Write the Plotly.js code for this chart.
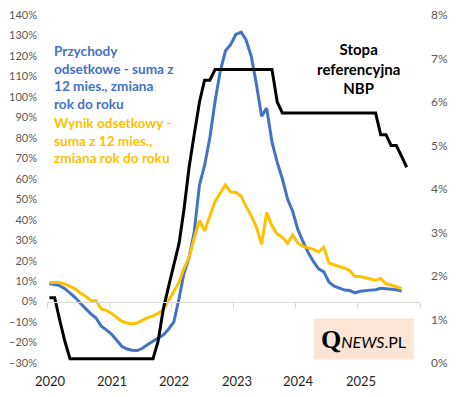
<!DOCTYPE html>
<html>
<head>
<meta charset="utf-8">
<script src="https://cdn.plot.ly/plotly-3.0.1.min.js"></script>
<style>html,body{margin:0;padding:0;background:#fff;}#chart{width:458px;height:397px;}</style>
</head>
<body>
<div id="chart"></div>
<script>
// Monthly data, Jan 2020 onward
const startYear = 2020;
const yearLabels = ['2020', '2021', '2022', '2023', '2024', '2025'];
const yearTicks = ['2020-01-01', '2021-01-01', '2022-01-01', '2023-01-01', '2024-01-01', '2025-01-01', '2026-01-01'];

// Przychody odsetkowe - suma z 12 mies., zmiana r/r (%)
const interestIncome = [8.8, 8.3, 7.8, 6.3, 4.3, 2.0, -0.8, -3.5, -6.0, -8.0,
  -12.0, -13.8, -16.0, -19.0, -21.8, -23.2, -23.8, -23.9, -22.8, -21.0,
  -19.3, -17.8, -16.2, -13.5, -10.0, 1.5, 13.5, 21.5, 34.0, 57.0,
  66.5, 80.0, 98.0, 112.5, 122.5, 125.5, 130.5, 131.6, 128.0, 120.0,
  106.5, 90.5, 94.5, 78.0, 68.0, 60.0, 50.0, 44.0, 35.0, 29.0,
  24.0, 19.5, 16.0, 14.5, 9.5, 7.5, 6.5, 5.6, 5.4, 4.3,
  5.0, 5.5, 5.6, 5.8, 6.5, 6.3, 6.1, 5.8, 5.2];

// Wynik odsetkowy - suma z 12 mies., zmiana r/r (%)
const netInterest = [9.3, 9.2, 9.3, 8.5, 7.3, 6.2, 4.2, 2.6, 0.5, 0.4,
  -3.6, -4.3, -5.8, -8.0, -9.6, -10.5, -10.9, -10.4, -9.0, -7.8,
  -7.0, -5.8, -4.0, 0.5, 4.5, 9.5, 16.0, 21.5, 31.0, 39.6,
  34.5, 42.0, 49.0, 53.0, 57.0, 53.5, 53.3, 51.5, 46.5, 42.0,
  36.5, 28.0, 43.5, 37.0, 33.0, 31.5, 28.5, 32.6, 28.5, 27.0,
  26.3, 25.5, 24.2, 26.5, 18.8, 18.0, 17.4, 16.3, 15.1, 12.3,
  12.2, 11.5, 10.8, 10.4, 11.3, 8.7, 8.1, 7.2, 6.3];

// Stopa referencyjna NBP (%)
const refRate = [1.5, 1.5, 1.0, 0.5, 0.1, 0.1, 0.1, 0.1, 0.1, 0.1,
  0.1, 0.1, 0.1, 0.1, 0.1, 0.1, 0.1, 0.1, 0.1, 0.1,
  0.1, 0.5, 1.25, 1.75, 2.25, 2.75, 3.5, 4.5, 5.25, 6.0,
  6.5, 6.5, 6.75, 6.75, 6.75, 6.75, 6.75, 6.75, 6.75, 6.75,
  6.75, 6.75, 6.75, 6.75, 6.0, 5.75, 5.75, 5.75, 5.75, 5.75,
  5.75, 5.75, 5.75, 5.75, 5.75, 5.75, 5.75, 5.75, 5.75, 5.75,
  5.75, 5.75, 5.75, 5.75, 5.25, 5.25, 5.0, 5.0, 4.75, 4.5];

function monthDates(n) {
  const out = [];
  for (let i = 0; i < n; i++) {
    const y = startYear + Math.floor(i / 12);
    const m = (i % 12) + 1;
    out.push(y + '-' + String(m).padStart(2, '0') + '-15');
  }
  return out;
}

const yMin = -30, yMax = 140;
const y2Min = 0, y2Max = 8;
const FONT = 'Lato, "Open Sans", sans-serif';

const traces = [
  {x: monthDates(interestIncome.length), y: interestIncome, type: 'scatter', mode: 'lines',
   line: {color: '#4472C4', width: 3}, xaxis: 'x', yaxis: 'y', hoverinfo: 'skip'},
  {x: monthDates(netInterest.length), y: netInterest, type: 'scatter', mode: 'lines',
   line: {color: '#FFC000', width: 3}, xaxis: 'x', yaxis: 'y', hoverinfo: 'skip'},
  {x: monthDates(refRate.length), y: refRate, type: 'scatter', mode: 'lines',
   line: {color: '#000000', width: 3}, xaxis: 'x', yaxis: 'y2', hoverinfo: 'skip'}
];

const annotations = yearLabels.map((t, i) => ({
  x: yearTicks[i], xref: 'x', y: -0.053, yref: 'paper', text: t, showarrow: false,
  xanchor: 'center', yanchor: 'middle', xshift: 3,
  font: {family: FONT, size: 13, color: '#262626'}
}));

annotations.push({
  xref: 'paper', yref: 'paper', x: 0.013, y: 0.925, xanchor: 'left', yanchor: 'top', align: 'left',
  showarrow: false,
  text: '<b>Przychody<br>odsetkowe - suma z<br>12 mies., zmiana<br>rok do roku</b>',
  font: {family: FONT, size: 13.6, color: '#4472C4'}
});
annotations.push({
  xref: 'paper', yref: 'paper', x: 0.013, y: 0.719, xanchor: 'left', yanchor: 'top', align: 'left',
  showarrow: false,
  text: '<b>Wynik odsetkowy -<br>suma z 12 mies.,<br>zmiana rok do roku</b>',
  font: {family: FONT, size: 13.6, color: '#FFC000'}
});
annotations.push({
  xref: 'paper', yref: 'paper', x: 0.834, y: 0.933, xanchor: 'center', yanchor: 'top', align: 'center',
  showarrow: false,
  text: '<b>Stopa<br>referencyjna<br>NBP</b>',
  font: {family: FONT, size: 15, color: '#000000'}
});
annotations.push({
  xref: 'paper', yref: 'paper', x: 0.849, y: 0.069, xanchor: 'center', yanchor: 'middle',
  showarrow: false, bgcolor: '#FBE5D6', width: 97, height: 38,
  text: '<span style="font-family:\'Liberation Serif\',serif;font-size:26px;font-weight:bold">Q</span><span style="font-size:16px"><i>NEWS</i>.PL</span>',
  font: {family: FONT, size: 16, color: '#000000'}
});

const layout = {
  width: 458, height: 397,
  margin: {l: 47, r: 38, t: 15, b: 34, pad: 0},
  paper_bgcolor: '#ffffff', plot_bgcolor: '#ffffff',
  showlegend: false,
  font: {family: FONT},
  xaxis: {
    type: 'date', range: ['2020-01-01', '2026-01-01'],
    anchor: 'free', position: (0 - yMin) / (yMax - yMin),
    showline: true, linecolor: '#D9D9D9', linewidth: 1,
    ticks: 'outside', ticklen: 5, tickcolor: '#D9D9D9', tickwidth: 1,
    tickmode: 'array', tickvals: yearTicks, showticklabels: false,
    showgrid: false, zeroline: false
  },
  yaxis: {
    range: [yMin, yMax], tickmode: 'linear', tick0: -30, dtick: 10, ticksuffix: '%',
    showgrid: false, zeroline: false, showline: false, ticks: '',
    ticklabelstandoff: 9,
    tickfont: {family: FONT, size: 11, color: '#595959'}
  },
  yaxis2: {
    overlaying: 'y', side: 'right', anchor: 'x',
    range: [y2Min, y2Max], tickmode: 'linear', tick0: 0, dtick: 1, ticksuffix: '%',
    showgrid: false, zeroline: false, showline: false, ticks: '',
    ticklabelstandoff: 10,
    tickfont: {family: FONT, size: 12, color: '#595959'}
  },
  annotations: annotations
};

Plotly.newPlot('chart', traces, layout, {staticPlot: true, displayModeBar: false});
</script>
</body>
</html>
